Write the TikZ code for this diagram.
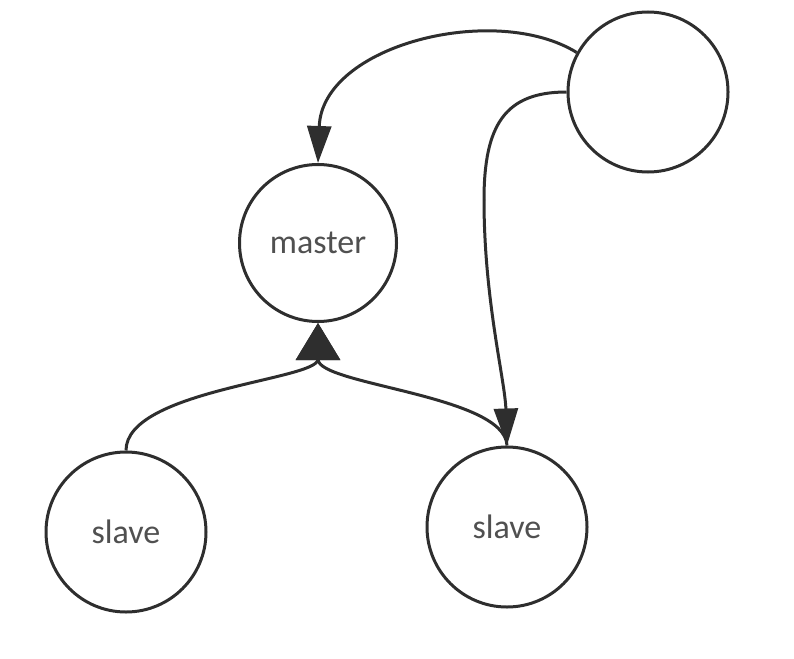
\documentclass[tikz,border=0pt]{standalone}
\usepackage{fontspec}
\setmainfont{Carlito}
\usetikzlibrary{arrows.meta}
\definecolor{ink}{HTML}{2E2E2E}
\definecolor{txt}{HTML}{505050}
\tikzset{
  state/.style={circle, draw=ink, line width=3pt, minimum size=160pt, inner sep=0pt, text=txt, font=\fontsize{34}{40}\selectfont},
  conn/.style={draw=ink, line width=3pt},
  tipsmall/.style={-{Triangle[length=37pt,width=24pt]}},
  tipbig/.style={-{Triangle[length=37pt,width=44pt]}}
}
\begin{document}
\begin{tikzpicture}[x=1pt,y=-1pt]
\useasboundingbox (0,0) rectangle (794,658);
\node[state] (c) at (648,92) {};
\node[state, minimum size=157pt] (m) at (318,243) {master};
\node[state] (s1) at (126,532) {slave};
\node[state] (s2) at (507,527) {slave};
% client -> master
\draw[conn, tipsmall] (c.151) .. controls (495,2) and (322,45) .. (m.north);
% client -> right slave
\draw[conn] (c.west) .. controls (505,92) and (484,125) .. (484,200) coordinate (k);
\draw[conn, tipsmall] (k) .. controls (484,300) and (505,380) .. (s2.north);
% slaves -> master
\draw[conn, tipbig] (s1.north) .. controls (126,390) and (318,380) .. (m.south);
\draw[conn, tipbig] (s2.north) .. controls (505,395) and (318,385) .. (m.south);
\end{tikzpicture}
\end{document}
